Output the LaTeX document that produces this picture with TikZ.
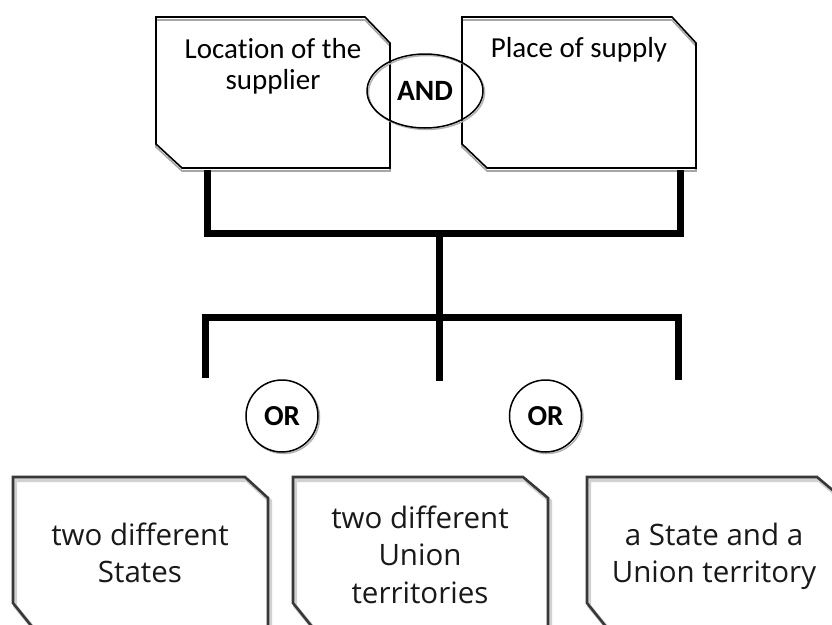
\documentclass[tikz,border=0pt]{standalone}
\usepackage{fontspec}
\setmainfont[Ligatures=NoCommon]{Carlito}
\newfontfamily\segoe{Open Sans}
\usetikzlibrary{shapes.geometric}
\begin{document}
\begin{tikzpicture}[x=1pt,y=-1pt,
  topbox/.style={draw=black,line width=1.6pt,line join=miter},
  topshadow/.style={draw=black!35,line width=1.6pt,line join=miter},
  botbox/.style={draw=black!78,line width=2.6pt,line join=miter},
  botshadow/.style={draw=black!18,line width=4pt,line join=miter},
  bar/.style={draw=black,line width=7pt,line join=miter},
  toptext/.style={inner sep=0pt,align=center,font=\fontsize{29}{31.5}\selectfont,anchor=north},
  bottext/.style={inner sep=0pt,align=center,font=\segoe\fontsize{29.5}{37.5}\selectfont,anchor=north,text=black!90},
  orcirc/.style={circle,draw=black,line width=1.5pt,fill=white,minimum size=72pt,inner sep=0pt,font=\bfseries\fontsize{29}{30}\selectfont},
  orshadow/.style={circle,draw=black!30,line width=1.5pt,minimum size=72pt,inner sep=0pt}]
\useasboundingbox (0,0) rectangle (832,624);
\clip (0,0) rectangle (832,624);
% top boxes
\draw[topshadow] (156,20)--(365,20)--(390,46)--(390,171)--(182,171)--(156,147)--cycle;
\draw[topbox] (156,17)--(365,17)--(390,43)--(390,168)--(182,168)--(156,144)--cycle;
\draw[topshadow] (462,20)--(672,20)--(696,46)--(696,171)--(487,171)--(462,147)--cycle;
\draw[topbox] (462,17)--(672,17)--(696,43)--(696,168)--(487,168)--(462,144)--cycle;
\node[toptext] (loc) at (273,38) {Location of the\\supplier};
\node[toptext] (pos) at (579,37) {Place of supply};
% AND ellipse
\draw[draw=black!30,line width=1.5pt] (426.5,92.5) ellipse [x radius=58, y radius=37];
\node[ellipse,draw=black,line width=1.5pt,minimum width=116pt,minimum height=74pt,inner sep=0pt,font=\bfseries\fontsize{29.5}{31}\selectfont] (and) at (425,91) {AND};
% connectors
\coordinate (a1) at (207,170);
\coordinate (a2) at (207,233);
\coordinate (a3) at (680,233);
\coordinate (a4) at (680,170);
\coordinate (m1) at (439,233);
\coordinate (m2) at (439,381);
\coordinate (b1) at (205,378);
\coordinate (b2) at (205,317);
\coordinate (b3) at (678,317);
\coordinate (b4) at (678,380);
\draw[bar] (a1) -- (a2) -- (a3) -- (a4);
\draw[bar] (m1) -- (m2);
\draw[bar] (b1) -- (b2) -- (b3) -- (b4);
% OR circles
\node[orshadow] (or1s) at (283.5,417.5) {};
\node[orcirc] (or1) at (282,416) {OR};
\node[orshadow] (or2s) at (547,417.5) {};
\node[orcirc] (or2) at (545.5,416) {OR};
% bottom boxes
\draw[botshadow] (15,480)--(247,480)--(270,501)--(270,630)--(35,630)--(15,606)--cycle;
\draw[botbox] (13,477)--(245,477)--(268,498)--(268,628)--(33,628)--(13,603)--cycle;
\draw[botshadow] (295,480)--(525,480)--(550,501)--(550,630)--(315,630)--(295,606)--cycle;
\draw[botbox] (293,477)--(523,477)--(548,498)--(548,628)--(313,628)--(293,603)--cycle;
\draw[botshadow] (589,480)--(819,480)--(844,501)--(844,630)--(609,630)--(589,606)--cycle;
\draw[botbox] (587,477)--(817,477)--(842,498)--(842,628)--(607,628)--(587,603)--cycle;
\node[bottext] (s1) at (140,522.5) {two different\\States};
\node[bottext] (s2) at (420,505.5) {two different\\Union\\territories};
\node[bottext] (s3) at (714,522.5) {a State and a\\Union territory};
\end{tikzpicture}
\end{document}
